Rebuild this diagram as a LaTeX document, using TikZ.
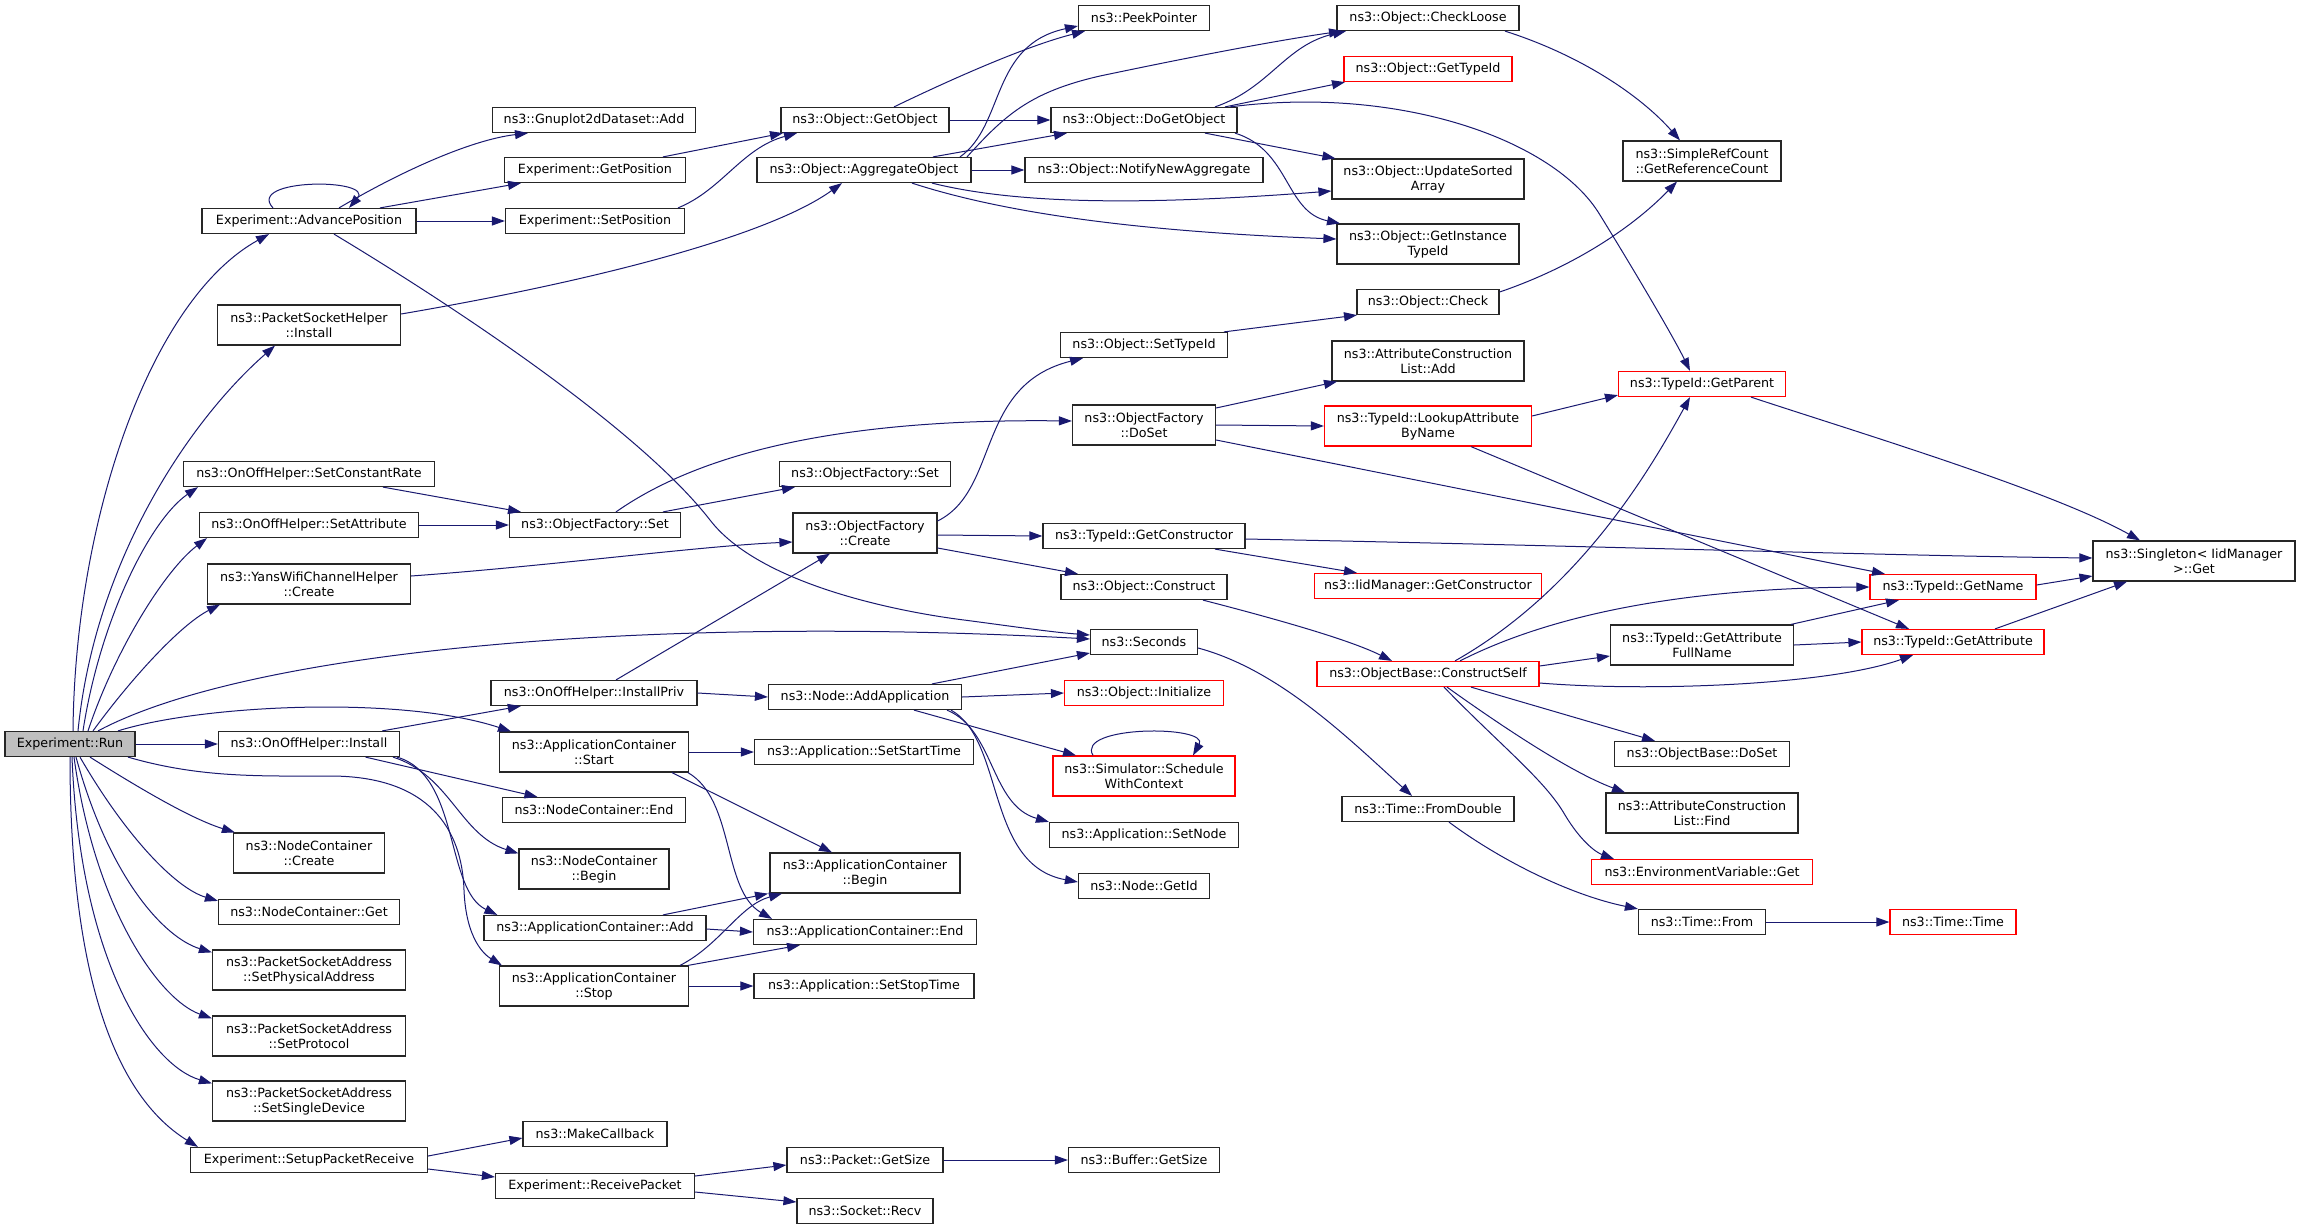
\documentclass[tikz,border=0pt]{standalone}
\usepackage{fontspec}
\setmainfont{DejaVu Sans}
\usetikzlibrary{arrows.meta}
\definecolor{edgeblue}{HTML}{191970}
\definecolor{boxred}{HTML}{FF0000}
\definecolor{rungray}{HTML}{BFBFBF}
\begin{document}
\begin{tikzpicture}[x=1pt,y=-1pt,
  nbox/.style={draw=black!85, line width=1.2pt, fill=white, rectangle, inner sep=0pt,
    minimum height=25pt, align=center, font=\fontsize{12.7}{15}\selectfont},
  tall/.style={minimum height=40pt},
  redb/.style={draw=boxred},
  cedge/.style={draw=edgeblue, line width=1pt, -{Triangle[length=13pt,width=9pt]}},
]
\fill[white] (0,0) rectangle (2301,1229);
\useasboundingbox (0,0) rectangle (2301,1229);
% column 0
\node[nbox, fill=rungray, minimum width=130pt] (run) at (70,744) {Experiment::Run};
% column 1
\node[nbox, minimum width=214pt] (adv) at (309,221) {Experiment::AdvancePosition};
\node[nbox, tall, minimum width=183pt] (psh) at (309,325) {ns3::PacketSocketHelper\\::Install};
\node[nbox, minimum width=251pt] (scr) at (309,474) {ns3::OnOffHelper::SetConstantRate};
\node[nbox, minimum width=219pt] (sat) at (309,525) {ns3::OnOffHelper::SetAttribute};
\node[nbox, tall, minimum width=203pt] (ywc) at (309,584) {ns3::YansWifiChannelHelper\\::Create};
\node[nbox, minimum width=181pt] (ooi) at (309,744) {ns3::OnOffHelper::Install};
\node[nbox, tall, minimum width=151pt] (ncc) at (309,853) {ns3::NodeContainer\\::Create};
\node[nbox, minimum width=181pt] (ncg) at (309,912) {ns3::NodeContainer::Get};
\node[nbox, tall, minimum width=193pt] (spa) at (309,970) {ns3::PacketSocketAddress\\::SetPhysicalAddress};
\node[nbox, tall, minimum width=193pt] (spp) at (309,1036) {ns3::PacketSocketAddress\\::SetProtocol};
\node[nbox, tall, minimum width=193pt] (ssd) at (309,1101) {ns3::PacketSocketAddress\\::SetSingleDevice};
\node[nbox, minimum width=237pt] (spk) at (309,1160) {Experiment::SetupPacketReceive};
% column 2
\node[nbox, minimum width=203pt] (gpa) at (594,120) {ns3::Gnuplot2dDataset::Add};
\node[nbox, minimum width=181pt] (gpo) at (595,170) {Experiment::GetPosition};
\node[nbox, minimum width=179pt] (spo) at (595,221) {Experiment::SetPosition};
\node[nbox, minimum width=171pt] (ofs) at (595,525) {ns3::ObjectFactory::Set};
\node[nbox, minimum width=206pt] (ipr) at (594,693) {ns3::OnOffHelper::InstallPriv};
\node[nbox, tall, minimum width=189pt] (acs) at (594,752) {ns3::ApplicationContainer\\::Start};
\node[nbox, minimum width=183pt] (nce) at (594,810) {ns3::NodeContainer::End};
\node[nbox, tall, minimum width=150pt] (ncb) at (594,869) {ns3::NodeContainer\\::Begin};
\node[nbox, minimum width=222pt] (aca) at (595,928) {ns3::ApplicationContainer::Add};
\node[nbox, tall, minimum width=189pt] (act) at (594,986) {ns3::ApplicationContainer\\::Stop};
\node[nbox, minimum width=144pt] (mcb) at (595,1134) {ns3::MakeCallback};
\node[nbox, minimum width=199pt] (rcp) at (595,1186) {Experiment::ReceivePacket};
% column 3
\node[nbox, minimum width=168pt] (ogo) at (865,120) {ns3::Object::GetObject};
\node[nbox, minimum width=214pt] (agg) at (864,170) {ns3::Object::AggregateObject};
\node[nbox, minimum width=171pt] (ofz) at (865,474) {ns3::ObjectFactory::Set};
\node[nbox, tall, minimum width=144pt] (ofc) at (865,533) {ns3::ObjectFactory\\::Create};
\node[nbox, minimum width=193pt] (naa) at (865,697) {ns3::Node::AddApplication};
\node[nbox, minimum width=219pt] (sst) at (864,752) {ns3::Application::SetStartTime};
\node[nbox, tall, minimum width=190pt] (acb) at (865,873) {ns3::ApplicationContainer\\::Begin};
\node[nbox, minimum width=223pt] (ace) at (865,932) {ns3::ApplicationContainer::End};
\node[nbox, minimum width=220pt] (sso) at (864,986) {ns3::Application::SetStopTime};
\node[nbox, minimum width=156pt] (pgs) at (865,1160) {ns3::Packet::GetSize};
\node[nbox, minimum width=136pt] (srv) at (865,1211) {ns3::Socket::Recv};
% column 4
\node[nbox, minimum width=131pt] (pkp) at (1144,18) {ns3::PeekPointer};
\node[nbox, minimum width=186pt] (dgo) at (1144,120) {ns3::Object::DoGetObject};
\node[nbox, minimum width=238pt] (nna) at (1144,170) {ns3::Object::NotifyNewAggregate};
\node[nbox, minimum width=167pt] (sti) at (1144,345) {ns3::Object::SetTypeId};
\node[nbox, tall, minimum width=143pt] (ofd) at (1144,425) {ns3::ObjectFactory\\::DoSet};
\node[nbox, minimum width=202pt] (tgc) at (1144,536) {ns3::TypeId::GetConstructor};
\node[nbox, minimum width=166pt] (ocn) at (1144,587) {ns3::Object::Construct};
\node[nbox, minimum width=107pt] (sec) at (1144,642) {ns3::Seconds};
\node[nbox, redb, minimum width=159pt] (oin) at (1144,693) {ns3::Object::Initialize};
\node[nbox, redb, tall, minimum width=182pt] (swc) at (1144,776) {ns3::Simulator::Schedule\\WithContext};
\node[nbox, minimum width=189pt] (asn) at (1144,835) {ns3::Application::SetNode};
\node[nbox, minimum width=131pt] (ngi) at (1144,886) {ns3::Node::GetId};
\node[nbox, minimum width=151pt] (bgs) at (1144,1160) {ns3::Buffer::GetSize};
% column 5
\node[nbox, minimum width=182pt] (ocl) at (1428,18) {ns3::Object::CheckLoose};
\node[nbox, redb, minimum width=168pt] (gti) at (1428,69) {ns3::Object::GetTypeId};
\node[nbox, tall, minimum width=192pt] (usa) at (1428,179) {ns3::Object::UpdateSorted\\Array};
\node[nbox, tall, minimum width=182pt] (git) at (1428,244) {ns3::Object::GetInstance\\TypeId};
\node[nbox, minimum width=142pt] (och) at (1428,302) {ns3::Object::Check};
\node[nbox, tall, minimum width=192pt] (acl) at (1428,361) {ns3::AttributeConstruction\\List::Add};
\node[nbox, redb, tall, minimum width=207pt] (lab) at (1428,426) {ns3::TypeId::LookupAttribute\\ByName};
\node[nbox, redb, minimum width=227pt] (iic) at (1428,586) {ns3::IidManager::GetConstructor};
\node[nbox, redb, minimum width=222pt] (ocs) at (1428,674) {ns3::ObjectBase::ConstructSelf};
\node[nbox, minimum width=172pt] (tfd) at (1428,809) {ns3::Time::FromDouble};
% column 6
\node[nbox, tall, minimum width=158pt] (src) at (1702,161) {ns3::SimpleRefCount\\::GetReferenceCount};
\node[nbox, redb, minimum width=167pt] (gpr) at (1702,384) {ns3::TypeId::GetParent};
\node[nbox, tall, minimum width=183pt] (gaf) at (1702,645) {ns3::TypeId::GetAttribute\\FullName};
\node[nbox, minimum width=175pt] (obd) at (1702,754) {ns3::ObjectBase::DoSet};
\node[nbox, tall, minimum width=192pt] (acf) at (1702,813) {ns3::AttributeConstruction\\List::Find};
\node[nbox, redb, minimum width=221pt] (evg) at (1702,872) {ns3::EnvironmentVariable::Get};
\node[nbox, minimum width=127pt] (tfr) at (1702,922) {ns3::Time::From};
% column 7
\node[nbox, redb, minimum width=166pt] (gnm) at (1953,587) {ns3::TypeId::GetName};
\node[nbox, redb, minimum width=182pt] (gat) at (1953,642) {ns3::TypeId::GetAttribute};
\node[nbox, redb, minimum width=126pt] (ttm) at (1953,922) {ns3::Time::Time};
% column 8
\node[nbox, tall, minimum width=202pt] (sgt) at (2194,561) {ns3::Singleton< IidManager\\>::Get};

% ---- edges from Experiment::Run
\draw[cedge] ([xshift=3pt]run.north) .. controls (75,520) and (150,300) .. ([xshift=-40pt]adv.south);
\draw[cedge] ([xshift=8pt]run.north) .. controls (95,560) and (190,420) .. ([xshift=-34pt]psh.south);
\draw[cedge] ([xshift=13pt]run.north) .. controls (100,620) and (150,520) .. ([xshift=-111pt]scr.south);
\draw[cedge] ([xshift=18pt]run.north) .. controls (115,650) and (165,570) .. ([xshift=-102pt]sat.south);
\draw[cedge] ([xshift=23pt]run.north) .. controls (130,680) and (180,625) .. ([xshift=-89pt]ywc.south);
\draw[cedge] ([xshift=28pt]run.north) .. controls (250,650) and (650,615) .. ([yshift=3pt]sec.west);
\draw[cedge] (run.east) -- (ooi.west);
\draw[cedge] ([xshift=48pt]run.north) .. controls (200,705) and (400,695) .. ([xshift=-83pt]acs.north);
\draw[cedge] ([xshift=58pt]run.south) .. controls (200,778) and (260,776) .. (330,776) .. controls (430,776) and (462,830) .. (464,890) .. controls (466,940) and (485,955) .. ([xshift=3pt]act.north west);
\draw[cedge] ([xshift=20pt]run.south) .. controls (150,795) and (195,820) .. ([xshift=2pt]ncc.north west);
\draw[cedge] ([xshift=10pt]run.south) .. controls (125,835) and (175,888) .. ([yshift=-2pt]ncg.north west);
\draw[cedge] ([xshift=6pt]run.south) .. controls (110,880) and (165,938) .. ([yshift=-3pt]spa.north west);
\draw[cedge] ([xshift=4pt]run.south) .. controls (95,910) and (160,1000) .. ([yshift=-3pt]spp.north west);
\draw[cedge] ([xshift=2pt]run.south) .. controls (80,960) and (150,1065) .. ([yshift=-3pt]ssd.north west);
\draw[cedge] (run.south) .. controls (70,1010) and (130,1105) .. ([xshift=8pt]spk.north west);
% ---- AdvancePosition
\draw[cedge] ([xshift=-36pt]adv.north) .. controls (245,178) and (375,178) .. ([xshift=40pt]adv.north);
\draw[cedge] ([xshift=30pt]adv.north) .. controls (400,172) and (470,140) .. ([xshift=-66pt]gpa.south);
\draw[cedge] ([xshift=71pt]adv.north) -- ([xshift=-74pt]gpo.south);
\draw[cedge] (adv.east) -- (spo.west);
\draw[cedge] ([xshift=25pt]adv.south) .. controls (460,310) and (640,430) .. (710,520) .. controls (760,585) and (900,612) .. (964,620) .. controls (1010,626) and (1050,632) .. ([yshift=7pt]sec.west);
\draw[cedge] ([xshift=68pt]gpo.north) -- ([xshift=-82pt]ogo.south);
\draw[cedge] ([xshift=83pt]spo.north) .. controls (722,190) and (742,148) .. ([xshift=-68pt]ogo.south);
\draw[cedge] ([yshift=11pt]psh.east) .. controls (600,280) and (770,235) .. ([xshift=-22pt]agg.south);
% ---- ObjectFactory::Set callers
\draw[cedge] ([xshift=74pt]scr.south) -- ([xshift=-74pt]ofs.north);
\draw[cedge] (sat.east) -- (ofs.west);
\draw[cedge] ([xshift=21pt]ofs.north) .. controls (690,460) and (820,418) .. ([yshift=4pt]ofd.west);
\draw[cedge] ([xshift=68pt]ofs.north) -- ([xshift=-70pt]ofz.south);
\draw[cedge] ([yshift=8pt]ywc.east) .. controls (550,566) and (700,546) .. ([yshift=-9pt]ofc.west);
% ---- OnOffHelper::Install
\draw[cedge] (ooi) -- (ipr);
\draw[cedge] (ooi) -- (nce);
\draw[cedge] ([xshift=84pt]ooi.south) .. controls (450,775) and (460,835) .. ([yshift=-5pt]ncb.north west);
\draw[cedge] ([xshift=88pt]ooi.south) .. controls (460,775) and (445,890) .. ([xshift=14pt]aca.north west);
\draw[cedge] ([xshift=22pt]ipr.north) -- ([xshift=-35pt]ofc.south);
\draw[cedge] (ipr.east) -- (naa.west);
% ---- ApplicationContainer
\draw[cedge] (acs.east) -- (sst.west);
\draw[cedge] ([xshift=78pt]acs.south) -- ([xshift=-33pt]acb.north);
\draw[cedge] ([xshift=94pt]acs.south) .. controls (735,800) and (722,890) .. ([xshift=-93pt]ace.north);
\draw[cedge] ([xshift=68pt]aca.north) -- ([xshift=-97pt]acb.south);
\draw[cedge] ([yshift=-1pt]aca.east) -- (ace.west);
\draw[cedge] ([xshift=86pt]act.north) .. controls (720,945) and (740,905) .. ([xshift=-83pt]acb.south);
\draw[cedge] ([xshift=94pt]act.north) -- ([xshift=-65pt]ace.south);
\draw[cedge] (act.east) -- (sso.west);
% ---- packet receive
\draw[cedge] ([yshift=4pt]spk.east) -- ([yshift=-4pt]mcb.west);
\draw[cedge] ([yshift=-9pt]spk.east) -- ([yshift=9pt]rcp.west);
\draw[cedge] ([yshift=10pt]rcp.east) -- ([yshift=-5pt]pgs.west);
\draw[cedge] ([yshift=-6pt]rcp.east) -- ([yshift=9pt]srv.west);
\draw[cedge] (pgs.east) -- (bgs.west);
% ---- GetObject / AggregateObject
\draw[cedge] ([xshift=29pt]ogo.north) .. controls (960,75) and (1030,45) .. ([xshift=-59pt]pkp.south);
\draw[cedge] (ogo.east) -- (dgo.west);
\draw[cedge] ([xshift=96pt]agg.north) .. controls (1005,125) and (990,45) .. ([yshift=-8pt]pkp.west);
\draw[cedge] ([xshift=103pt]agg.north) .. controls (1005,115) and (1030,92) .. (1100,76) .. controls (1200,55) and (1280,40) .. ([xshift=-86pt]ocl.south);
\draw[cedge] ([xshift=69pt]agg.north) -- ([xshift=-77pt]dgo.south);
\draw[cedge] (agg.east) -- (nna.west);
\draw[cedge] ([xshift=68pt]agg.south) .. controls (1020,205) and (1150,205) .. ([yshift=-12pt]usa.west);
\draw[cedge] ([xshift=48pt]agg.south) .. controls (1010,215) and (1150,232) .. ([yshift=5pt]git.west);
% ---- DoGetObject
\draw[cedge] ([xshift=71pt]dgo.north) .. controls (1270,88) and (1285,45) .. ([xshift=-82pt]ocl.south);
\draw[cedge] ([xshift=81pt]dgo.north) -- ([xshift=-83pt]gti.south);
\draw[cedge] ([xshift=86pt]dgo.north) .. controls (1400,85) and (1555,140) .. (1600,215) .. controls (1640,280) and (1675,340) .. ([xshift=-12pt]gpr.north);
\draw[cedge] ([xshift=61pt]dgo.south) -- ([xshift=4pt]usa.north west);
\draw[cedge] ([xshift=91pt]dgo.south) .. controls (1290,150) and (1285,212) .. ([xshift=-88pt]git.north);
% ---- reference count
\draw[cedge] ([xshift=77pt]ocl.south) .. controls (1580,55) and (1640,95) .. ([xshift=-22pt]src.north);
\draw[cedge] ([yshift=10pt]och.east) .. controls (1570,268) and (1630,230) .. ([xshift=-25pt]src.south);
\draw[cedge] ([xshift=80pt]sti.north) -- ([xshift=-71pt]och.south);
% ---- ObjectFactory::DoSet
\draw[cedge] ([yshift=17pt]ofd.east) -- ([xshift=-91pt]acl.south);
\draw[cedge] (ofd.east) -- (lab.west);
\draw[cedge] ([yshift=-15pt]ofd.east) -- ([xshift=-68pt]gnm.north);
\draw[cedge] ([yshift=10pt]lab.east) -- ([yshift=2pt]gpr.south west);
\draw[cedge] ([xshift=43pt]lab.south) -- ([xshift=-44pt]gat.north);
% ---- ObjectFactory::Create
\draw[cedge] ([yshift=12pt]ofc.east) .. controls (1000,490) and (975,385) .. ([xshift=-61pt]sti.south);
\draw[cedge] ([yshift=-2pt]ofc.east) -- (tgc.west);
\draw[cedge] ([yshift=-15pt]ofc.east) -- ([xshift=-66pt]ocn.north);
\draw[cedge] ([xshift=71pt]tgc.south) -- ([xshift=-71pt]iic.north);
\draw[cedge] ([yshift=-3pt]tgc.east) .. controls (1600,546) and (1900,556) .. ([yshift=3pt]sgt.west);
\draw[cedge] ([xshift=59pt]ocn.south) .. controls (1280,620) and (1350,640) .. ([xshift=-36pt]ocs.north);
% ---- Seconds / AddApplication
\draw[cedge] ([yshift=-6pt]sec.east) .. controls (1280,670) and (1350,740) .. ([xshift=-16pt]tfd.north);
\draw[cedge] ([xshift=67pt]naa.north) -- ([yshift=-11pt]sec.west);
\draw[cedge] (naa.east) -- (oin.west);
\draw[cedge] ([xshift=49pt]naa.south) -- ([xshift=-68pt]swc.north);
\draw[cedge] ([xshift=82pt]naa.south) .. controls (995,730) and (990,805) .. (asn.north west);
\draw[cedge] ([xshift=86pt]naa.south) .. controls (1005,740) and (985,865) .. ([yshift=4pt]ngi.west);
\draw[cedge] ([xshift=-51pt]swc.north) .. controls (1075,725) and (1210,725) .. ([xshift=49pt]swc.north);
% ---- ConstructSelf
\draw[cedge] ([xshift=27pt]ocs.north) .. controls (1580,590) and (1650,470) .. ([xshift=-12pt]gpr.south);
\draw[cedge] ([xshift=32pt]ocs.north) .. controls (1560,610) and (1700,588) .. (gnm.west);
\draw[cedge] ([yshift=8pt]ocs.east) -- ([yshift=-11pt]gaf.west);
\draw[cedge] ([yshift=-9pt]ocs.east) .. controls (1650,692) and (1830,685) .. ([xshift=-40pt]gat.south);
\draw[cedge] ([xshift=43pt]ocs.south) -- ([xshift=-47pt]obd.north);
\draw[cedge] ([xshift=19pt]ocs.south) .. controls (1500,725) and (1570,772) .. ([xshift=-77pt]acf.north);
\draw[cedge] ([xshift=16pt]ocs.south) .. controls (1500,745) and (1545,780) .. (1565,815) .. controls (1580,840) and (1595,852) .. ([xshift=-88pt]evg.north);
\draw[cedge] ([xshift=89pt]gaf.north) -- ([xshift=-54pt]gnm.south);
\draw[cedge] (gaf.east) -- (gat.west);
% ---- Singleton
\draw[cedge] ([xshift=49pt]gpr.south) .. controls (1850,430) and (2050,490) .. ([xshift=-54pt]sgt.north);
\draw[cedge] ([yshift=2pt]gnm.east) -- ([yshift=-15pt]sgt.west);
\draw[cedge] ([xshift=42pt]gat.north) -- ([xshift=-67pt]sgt.south);
% ---- Time
\draw[cedge] ([xshift=21pt]tfd.south) .. controls (1500,860) and (1570,895) .. (tfr.north west);
\draw[cedge] (tfr.east) -- (ttm.west);
\end{tikzpicture}
\end{document}
